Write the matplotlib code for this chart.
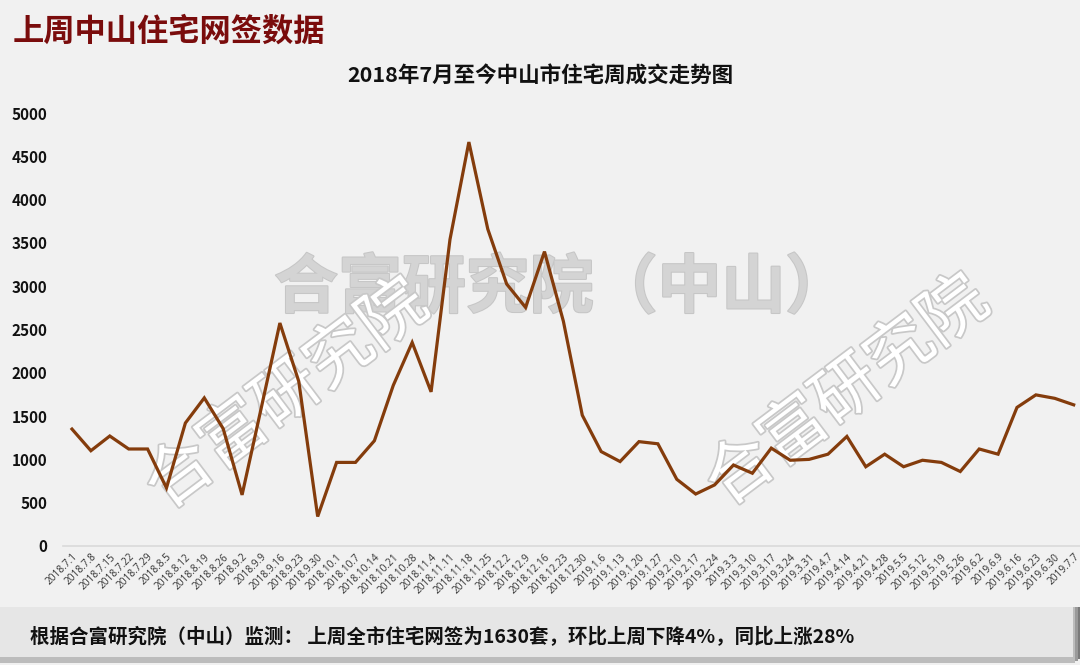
import matplotlib
matplotlib.use('Agg')
import matplotlib.pyplot as plt
import matplotlib.patheffects as pe
from matplotlib.patches import Rectangle

plt.rcParams['font.family'] = ['Noto Sans CJK SC', 'DejaVu Sans']

# weekly data
weeks = ['2018.7.1', '2018.7.8', '2018.7.15', '2018.7.22', '2018.7.29', '2018.8.5', '2018.8.12',
         '2018.8.19', '2018.8.26', '2018.9.2', '2018.9.9', '2018.9.16', '2018.9.23', '2018.9.30',
         '2018.10.1', '2018.10.7', '2018.10.14', '2018.10.21', '2018.10.28', '2018.11.4',
         '2018.11.11', '2018.11.18', '2018.11.25', '2018.12.2', '2018.12.9', '2018.12.16',
         '2018.12.23', '2018.12.30', '2019.1.6', '2019.1.13', '2019.1.20', '2019.1.27',
         '2019.2.10', '2019.2.17', '2019.2.24', '2019.3.3', '2019.3.10', '2019.3.17',
         '2019.3.24', '2019.3.31', '2019.4.7', '2019.4.14', '2019.4.21', '2019.4.28',
         '2019.5.5', '2019.5.12', '2019.5.19', '2019.5.26', '2019.6.2', '2019.6.9',
         '2019.6.16', '2019.6.23', '2019.6.30', '2019.7.7']
deals = [1350, 1100, 1270, 1120, 1120, 670, 1420, 1710, 1355, 590,
         1580, 2575, 1900, 340, 965, 965, 1215, 1855, 2350, 1780,
         3540, 4665, 3660, 3025, 2755, 3400, 2595, 1510, 1090, 975,
         1205, 1180, 770, 600, 705, 935, 840, 1130, 990, 1000,
         1060, 1265, 915, 1060, 915, 990, 965, 860, 1120, 1060,
         1600, 1745, 1705, 1630]
yticks = [0, 500, 1000, 1500, 2000, 2500, 3000, 3500, 4000, 4500, 5000]

bg = '#f1f1f1'
fig = plt.figure(figsize=(10.8, 6.65), dpi=100, facecolor=bg)
ax = fig.add_axes([0.0579, 0.179, 0.945, 0.651])
ax.set_facecolor(bg)

x = list(range(len(weeks)))
ax.plot(x, deals, color='#843c0c', linewidth=2.3, zorder=5, solid_joinstyle='miter')

ax.set_xlim(-0.5, len(weeks) - 0.5)
ax.set_ylim(0, 5000)
ax.set_yticks(yticks)
ax.set_yticklabels([str(v) for v in yticks], fontsize=11, fontweight='bold', color='#111111')
ax.set_xticks(x)
ax.set_xticklabels(weeks, rotation=45, ha='right', rotation_mode='anchor',
                   fontsize=7.3, color='#333333', family=['Open Sans', 'DejaVu Sans'])
ax.tick_params(axis='both', length=0)
ax.tick_params(axis='y', pad=11)
ax.tick_params(axis='x', pad=4)
for s in ['top', 'right', 'left']:
    ax.spines[s].set_visible(False)
ax.spines['bottom'].set_color('#d9d9d9')
ax.spines['bottom'].set_linewidth(1.2)

# watermarks
fig.text(0.52, 0.566, '合富研究院（中山）', fontsize=46, fontweight='bold', color='#d4d4d4',
         ha='center', va='center', zorder=1,
         path_effects=[pe.withStroke(linewidth=1.5, foreground='#c6c6c6')])
outline = [pe.withStroke(linewidth=2.5, foreground='#c8c8c8')]
fig.text(0.266, 0.405, '合富研究院', fontsize=48, color='white', rotation=37,
         ha='center', va='center', zorder=2, path_effects=outline)
fig.text(0.785, 0.41, '合富研究院', fontsize=48, color='white', rotation=37,
         ha='center', va='center', zorder=2, path_effects=outline)
ax.set_zorder(3)
ax.patch.set_alpha(0)

# titles
fig.text(0.012, 0.953, '上周中山住宅网签数据', fontsize=22.5, fontweight='bold', color='#7a0c0c',
         ha='left', va='center')
fig.text(0.5, 0.886, '2018年7月至今中山市住宅周成交走势图', fontsize=15.5, fontweight='bold',
         color='#111111', ha='center', va='center')

# bottom band with shadow
for i, c in enumerate(['#5a5a5a', '#7a7a7a', '#9a9a9a', '#bcbcbc']):
    off = (4 - i) * 0.0022
    fig.patches.append(Rectangle((0.0, (4 - i) * 0.0028), 0.9935 + off, 0.087 - (4 - i) * 0.0028,
                                 transform=fig.transFigure, facecolor=c, edgecolor='none', zorder=0))
fig.patches.append(Rectangle((0.0, 0.012), 0.9935, 0.075, transform=fig.transFigure,
                             facecolor='#e6e6e6', edgecolor='none', zorder=1))
fig.text(0.028, 0.042, '根据合富研究院（中山）监测： 上周全市住宅网签为1630套，环比上周下降4%，同比上涨28%',
         fontsize=14, fontweight='bold', color='#111111', ha='left', va='center', zorder=2)

fig.savefig('out.png', dpi=100, facecolor=bg)
